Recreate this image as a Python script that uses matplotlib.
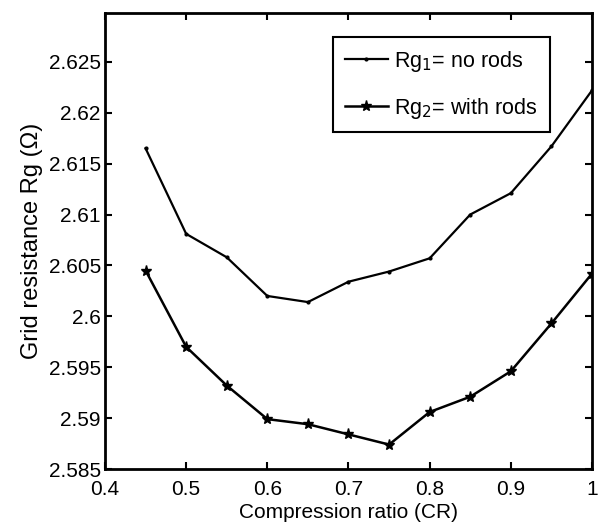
import matplotlib
matplotlib.use("Agg")
import matplotlib.pyplot as plt

# Dados
cr = [0.45, 0.5, 0.55, 0.6, 0.65, 0.7, 0.75, 0.8, 0.85, 0.9, 0.95, 1.0]
rg1 = [2.6165, 2.6081, 2.6058, 2.6020, 2.6014, 2.6034, 2.6044, 2.6057, 2.6100, 2.6121, 2.6167, 2.6222]
rg2 = [2.6045, 2.5970, 2.5932, 2.5899, 2.5894, 2.5884, 2.5874, 2.5906, 2.5921, 2.5946, 2.5993, 2.6042]
xticks = [0.4, 0.5, 0.6, 0.7, 0.8, 0.9, 1.0]
xticklabels = ["0.4", "0.5", "0.6", "0.7", "0.8", "0.9", "1"]
yticks = [2.585, 2.59, 2.595, 2.6, 2.605, 2.61, 2.615, 2.62, 2.625]
yticklabels = ["2.585", "2.59", "2.595", "2.6", "2.605", "2.61", "2.615", "2.62", "2.625"]

plt.rcParams["font.family"] = ["Liberation Sans", "DejaVu Sans"]

fig = plt.figure(figsize=(5.98, 5.31), dpi=100)
ax = fig.add_axes([105 / 598, 1 - 469 / 531, 487 / 598, 456 / 531])

ax.plot(cr, rg1, color="black", lw=1.6, marker=".", markersize=4, label="Rg$_1$= no rods")
ax.plot(cr, rg2, color="black", lw=1.8, marker="*", markersize=8, label="Rg$_2$= with rods")

ax.set_xlim(0.4, 1.0)
ax.set_ylim(2.585, 2.6298)
ax.set_xticks(xticks)
ax.set_xticklabels(xticklabels)
ax.set_yticks(yticks)
ax.set_yticklabels(yticklabels)
ax.tick_params(direction="in", top=True, right=True, labelsize=15, length=5, width=1.5)
ax.tick_params(axis="x", pad=8)
ax.tick_params(axis="y", pad=3)
for s in ax.spines.values():
    s.set_linewidth(2)

ax.set_xlabel("Compression ratio (CR)", fontsize=15, labelpad=3)
ax.set_ylabel("Grid resistance Rg (Ω)", fontsize=17, labelpad=4)

leg = ax.legend(loc="upper right", bbox_to_anchor=(0.913, 0.947), fontsize=15.5, fancybox=False,
                edgecolor="black", framealpha=1, handlelength=2.0, handletextpad=0.3,
                borderpad=0.55, labelspacing=1.0, borderaxespad=0)
leg.get_frame().set_linewidth(1.5)

fig.savefig("out.png", dpi=100)
